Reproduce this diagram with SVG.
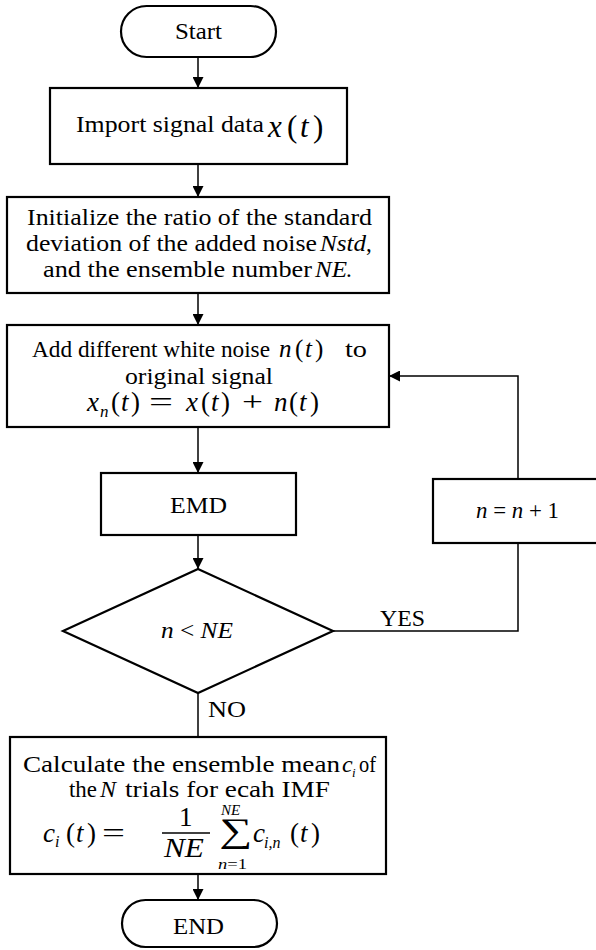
<svg xmlns="http://www.w3.org/2000/svg" width="596" height="950" viewBox="0 0 596 950">
<defs>
<marker id="arr" markerWidth="11" markerHeight="11" refX="10" refY="5" orient="auto" markerUnits="userSpaceOnUse" viewBox="0 0 10 10">
<path d="M0,0 L10,5 L0,10 Z" fill="#000"/>
</marker>
<style>
.box{fill:#fff;stroke:#000;stroke-width:2.2}
.ln{fill:none;stroke:#000;stroke-width:1.5}
.ar{marker-end:url(#arr)}
text{font-family:"Liberation Serif","Times New Roman",serif;font-size:23px;fill:#000}
.m{font-style:italic}
.big{font-size:27px}
.sub{font-size:16px}
</style>
</defs>
<rect width="596" height="950" fill="#fff"/>
<g id="connectors">
<path class="ln ar" d="M198,57 V88"/>
<path class="ln ar" d="M198,164 V197"/>
<path class="ln ar" d="M198,293 V325"/>
<path class="ln ar" d="M198,427 V473"/>
<path class="ln ar" d="M198,535 V569"/>
<path class="ln" d="M333,631 H518 V543"/>
<path class="ln ar" d="M518,479 V376 H389"/>
<path class="ln" d="M198,693 V737"/>
<path class="ln ar" d="M198,874 V900"/>
<text x="380" y="626" textLength="45" lengthAdjust="spacingAndGlyphs">YES</text>
<text x="208" y="717" textLength="38" lengthAdjust="spacingAndGlyphs">NO</text>
</g>
<g id="start">
<rect class="box" x="121" y="6" width="155" height="51" rx="25.5"/>
<text x="175" y="39" textLength="47" lengthAdjust="spacingAndGlyphs">Start</text>
</g>
<g id="import">
<rect class="box" x="50" y="88" width="297" height="76"/>
<text x="76" y="132" textLength="188" lengthAdjust="spacingAndGlyphs">Import signal data</text>
<text y="137" style="font-size:31px"><tspan x="268" class="m">x</tspan><tspan x="287">(</tspan><tspan x="300" class="m">t</tspan><tspan x="313">)</tspan></text>
</g>
<g id="init">
<rect class="box" x="7" y="197" width="382" height="96"/>
<text x="27" y="225" textLength="345" lengthAdjust="spacingAndGlyphs">Initialize the ratio of the standard</text>
<text x="26" y="251" textLength="291" lengthAdjust="spacingAndGlyphs">deviation of the added noise</text>
<text x="320" y="251" class="m" textLength="46" lengthAdjust="spacingAndGlyphs">Nstd</text>
<text x="366" y="251">,</text>
<text x="43" y="277" textLength="269" lengthAdjust="spacingAndGlyphs">and the ensemble number</text>
<text x="315" y="277" class="m" textLength="32" lengthAdjust="spacingAndGlyphs">NE</text>
<text x="346" y="277">.</text>
</g>
<g id="addnoise">
<rect class="box" x="7" y="325" width="382" height="102"/>
<text x="32" y="357" textLength="238" lengthAdjust="spacingAndGlyphs">Add different white noise</text>
<text y="357" style="font-size:25px"><tspan x="279" class="m">n</tspan><tspan x="295">(</tspan><tspan x="305" class="m">t</tspan><tspan x="315">)</tspan></text>
<text x="345" y="357" textLength="22" lengthAdjust="spacingAndGlyphs">to</text>
<text x="125" y="384" textLength="148" lengthAdjust="spacingAndGlyphs">original signal</text>
<text y="411" style="font-size:27px"><tspan x="87" class="m">x</tspan><tspan x="111">(</tspan><tspan x="121" class="m">t</tspan><tspan x="131">)</tspan><tspan x="186" class="m">x</tspan><tspan x="201">(</tspan><tspan x="211" class="m">t</tspan><tspan x="221">)</tspan><tspan x="274" class="m">n</tspan><tspan x="289">(</tspan><tspan x="299" class="m">t</tspan><tspan x="310">)</tspan></text>
<text x="100" y="417" class="m" style="font-size:17px">n</text>
<text x="149" y="411" style="font-size:27px" textLength="24" lengthAdjust="spacingAndGlyphs">=</text>
<text x="242" y="411" style="font-size:27px" textLength="21" lengthAdjust="spacingAndGlyphs">+</text>
</g>
<g id="emd">
<rect class="box" x="101" y="473" width="195" height="62"/>
<text x="170" y="513" textLength="57" lengthAdjust="spacingAndGlyphs">EMD</text>
</g>
<g id="increment">
<rect class="box" x="433" y="479" width="170" height="64"/>
<text x="476" y="518" style="font-size:24px" textLength="83" lengthAdjust="spacingAndGlyphs"><tspan class="m">n</tspan> = <tspan class="m">n</tspan> + 1</text>
</g>
<g id="decision">
<polygon class="box" points="198,569 333,631 198,693 63,631"/>
<text x="161" y="638" style="font-size:23px" textLength="72" lengthAdjust="spacingAndGlyphs"><tspan class="m">n</tspan> &lt; <tspan class="m">NE</tspan></text>
</g>
<g id="calc">
<rect class="box" x="10" y="737" width="376" height="137"/>
<text x="23" y="772" textLength="317" lengthAdjust="spacingAndGlyphs">Calculate the ensemble mean</text>
<text x="342" y="772" class="m" style="font-size:24px">c</text>
<text x="352" y="777" class="m" style="font-size:13px">i</text>
<text x="359" y="772" textLength="17" lengthAdjust="spacingAndGlyphs">of</text>
<text x="69" y="797" textLength="28" lengthAdjust="spacingAndGlyphs">the</text>
<text x="100" y="797" class="m" style="font-size:24px">N</text>
<text x="125" y="797" textLength="205" lengthAdjust="spacingAndGlyphs">trials for ecah IMF</text>
<text y="842" class="big"><tspan x="43" class="m">c</tspan><tspan x="66">(</tspan><tspan x="76" class="m">t</tspan><tspan x="87">)</tspan></text>
<text x="55" y="847" class="m sub">i</text>
<text x="102" y="842" class="big" textLength="23" lengthAdjust="spacingAndGlyphs">=</text>
<text x="179" y="826" style="font-size:27px">1</text>
<line x1="162" y1="833" x2="210" y2="833" stroke="#000" stroke-width="1.5"/>
<text x="164" y="857" class="m big" textLength="40" lengthAdjust="spacingAndGlyphs">NE</text>
<text x="219" y="842" style="font-size:34px" textLength="33" lengthAdjust="spacingAndGlyphs">∑</text>
<text x="221" y="815" class="m" style="font-size:15px">NE</text>
<text x="218" y="869" style="font-size:15px" textLength="29" lengthAdjust="spacingAndGlyphs"><tspan class="m">n</tspan>=1</text>
<text y="842" class="big"><tspan x="253" class="m">c</tspan><tspan x="290">(</tspan><tspan x="300" class="m">t</tspan><tspan x="311">)</tspan></text>
<text x="264" y="848" class="m sub">i,n</text>
</g>
<g id="end">
<rect class="box" x="122" y="900" width="155" height="47" rx="23.5"/>
<text x="173" y="934" textLength="51" lengthAdjust="spacingAndGlyphs">END</text>
</g>
</svg>
